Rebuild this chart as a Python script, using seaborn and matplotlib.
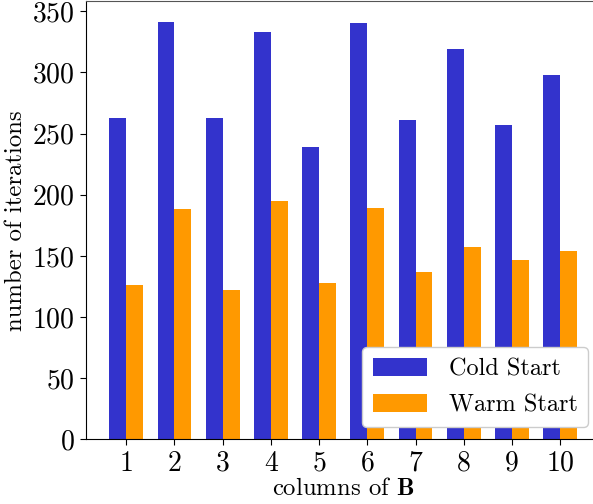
import matplotlib
matplotlib.use("Agg")
import matplotlib.pyplot as plt
import pandas as pd
import seaborn as sns

# Iteration counts per column of B
columns = ["1", "2", "3", "4", "5", "6", "7", "8", "9", "10"]
cold_start = [263, 341, 263, 333, 239, 340, 261, 319, 257, 298]
warm_start = [126, 188, 122, 195, 128, 189, 137, 157, 147, 154]
series_names = ["Cold Start", "Warm Start"]
series_colors = ["#3333cc", "#ff9900"]

df = pd.DataFrame({
    "column": columns * 2,
    "iterations": cold_start + warm_start,
    "start": [series_names[0]] * len(columns) + [series_names[1]] * len(columns),
})

plt.rcParams["font.family"] = ["cmr10"]
plt.rcParams["mathtext.fontset"] = "cm"
plt.rcParams["axes.unicode_minus"] = False
plt.rcParams["axes.formatter.use_mathtext"] = True

fig = plt.figure(figsize=(5.93, 5.04), dpi=100)
ax = fig.add_axes([0.145, 0.1284, 0.8676, 0.8687])

sns.barplot(
    data=df, x="column", y="iterations", hue="start",
    order=columns, hue_order=series_names,
    palette=series_colors, saturation=1, width=0.7,
    linewidth=0, errorbar=None, ax=ax,
)

ax.set_xlim(-0.835, 9.835)
ax.set_ylim(0, 358)
ax.set_yticks([0, 50, 100, 150, 200, 250, 300, 350])
ax.tick_params(labelsize=20, length=4.5)
ax.spines["top"].set_color("#555555")
ax.set_xlabel(r"columns of $\mathbf{B}$", fontsize=17.8, labelpad=1)
ax.set_ylabel("number of iterations", fontsize=17.8, labelpad=4)

leg = ax.legend(loc="lower right", fontsize=17.5, framealpha=1,
                handlelength=2.2, handleheight=0.75, handletextpad=0.9,
                labelspacing=0.55, borderpad=0.45, borderaxespad=0.5)
leg.set_title(None)
leg.get_frame().set_edgecolor("#cccccc")

fig.savefig("out.png", dpi=100)
